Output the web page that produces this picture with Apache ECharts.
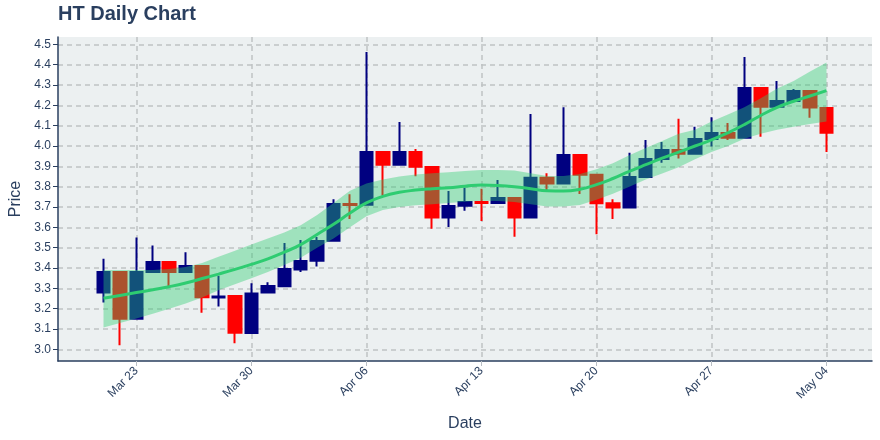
<!DOCTYPE html>
<html><head><meta charset="utf-8">
<script src="https://cdn.jsdelivr.net/npm/echarts@6/dist/echarts.min.js"></script>
<style>html,body{margin:0;padding:0;background:#fff}#c{width:880px;height:440px}</style>
</head><body><div id="c"></div>
<script>
const dates = ['2020-03-21','2020-03-22','2020-03-23','2020-03-24','2020-03-25','2020-03-26','2020-03-27','2020-03-28','2020-03-29','2020-03-30','2020-03-31',
 '2020-04-01','2020-04-02','2020-04-03','2020-04-04','2020-04-05','2020-04-06','2020-04-07','2020-04-08','2020-04-09','2020-04-10',
 '2020-04-11','2020-04-12','2020-04-13','2020-04-14','2020-04-15','2020-04-16','2020-04-17','2020-04-18','2020-04-19','2020-04-20',
 '2020-04-21','2020-04-22','2020-04-23','2020-04-24','2020-04-25','2020-04-26','2020-04-27','2020-04-28','2020-04-29','2020-04-30',
 '2020-05-01','2020-05-02','2020-05-03','2020-05-04'];
const open  = [3.28,3.38,3.15,3.38,3.43,3.38,3.41,3.255,3.262,3.08,3.279,
 3.31,3.392,3.436,3.534,3.715,3.711,3.97,3.908,3.97,3.897,
 3.648,3.706,3.725,3.72,3.744,3.648,3.844,3.815,3.956,3.859,
 3.718,3.697,3.848,3.936,3.98,3.962,4.034,4.064,4.041,4.285,
 4.193,4.221,4.27,4.187];
const close = [3.38,3.15,3.38,3.43,3.38,3.41,3.256,3.26,3.082,3.275,3.311,
 3.395,3.434,3.533,3.715,3.71,3.97,3.908,3.97,3.898,3.648,
 3.705,3.725,3.72,3.744,3.648,3.844,3.815,3.956,3.859,3.718,
 3.697,3.848,3.936,3.98,3.962,4.034,4.064,4.041,4.285,4.193,
 4.221,4.27,4.189,4.065];
const low   = [3.23,3.02,3.15,3.38,3.305,3.38,3.18,3.21,3.03,3.08,3.279,
 3.31,3.38,3.407,3.534,3.641,3.711,3.756,3.908,3.851,3.593,
 3.602,3.682,3.631,3.716,3.554,3.648,3.78,3.815,3.764,3.566,
 3.641,3.697,3.843,3.918,3.938,3.962,3.997,4.03,4.041,4.046,
 4.193,4.221,4.139,3.97];
const high  = [3.445,3.38,3.55,3.51,3.43,3.477,3.41,3.362,3.262,3.325,3.33,
 3.523,3.538,3.552,3.738,3.762,4.462,3.97,4.118,3.985,3.897,
 3.779,3.795,3.79,3.833,3.744,4.157,3.866,4.19,3.956,3.859,
 3.738,3.967,4.03,4.02,4.134,4.095,4.141,4.113,4.438,4.285,
 4.32,4.28,4.27,4.187];
const trend = [3.251,3.265,3.279,3.293,3.308,3.326,3.348,3.37,3.393,3.418,3.445,
 3.478,3.515,3.565,3.615,3.67,3.72,3.752,3.772,3.783,3.79,
 3.795,3.802,3.808,3.806,3.8,3.79,3.78,3.778,3.787,3.81,
 3.84,3.875,3.908,3.94,3.97,4.0,4.03,4.065,4.105,4.15,
 4.19,4.22,4.246,4.272];
const upper = [3.39,3.39,3.39,3.39,3.395,3.405,3.425,3.455,3.485,3.515,3.545,
 3.575,3.61,3.66,3.72,3.78,3.815,3.835,3.85,3.86,3.866,
 3.871,3.877,3.882,3.882,3.879,3.866,3.852,3.852,3.862,3.885,
 3.915,3.955,3.99,4.025,4.06,4.08,4.12,4.155,4.19,4.235,
 4.283,4.32,4.366,4.41];
const lower = [3.107,3.13,3.152,3.175,3.2,3.225,3.255,3.29,3.32,3.35,3.38,
 3.415,3.45,3.5,3.545,3.6,3.655,3.685,3.7,3.708,3.714,
 3.72,3.726,3.731,3.73,3.724,3.713,3.702,3.702,3.71,3.735,
 3.765,3.8,3.835,3.865,3.895,3.935,3.97,4.0,4.035,4.06,
 4.08,4.095,4.108,4.12];
const xTickDates  = ['2020-03-23','2020-03-30','2020-04-06','2020-04-13','2020-04-20','2020-04-27','2020-05-04'];
const xTickLabels = ['Mar 23','Mar 30','Apr 06','Apr 13','Apr 20','Apr 27','May 04'];
const yTicks = [3.0,3.1,3.2,3.3,3.4,3.5,3.6,3.7,3.8,3.9,4.0,4.1,4.2,4.3,4.4,4.5];

const ink = '#2a3f5f';
const font = 'Liberation Sans, Arial, sans-serif';
const xTickIdx = xTickDates.map(d => dates.indexOf(d));
const candles = dates.map((d, i) => [i, open[i], close[i], low[i], high[i]]);

const chart = echarts.init(document.getElementById('c'), null, {renderer: 'canvas'});
chart.setOption({
  animation: false,
  backgroundColor: '#fff',
  title: {text: 'HT Daily Chart', left: 58, top: 4, padding: 0,
    textStyle: {fontFamily: font, fontSize: 20, fontWeight: 'bold', color: ink}},
  grid: {left: 58, right: 8, top: 37, bottom: 79, show: true, backgroundColor: '#ecf0f1', borderWidth: 0,
    containLabel: false, outerBoundsMode: 'none'},
  xAxis: {
    type: 'value', min: -2.77, max: 46.77,
    name: 'Date', nameLocation: 'middle', nameGap: 55,
    nameTextStyle: {fontFamily: font, fontSize: 16, color: ink},
    axisLine: {show: true, onZero: false, lineStyle: {color: ink, width: 1.5}},
    axisTick: {show: true, length: 5, customValues: xTickIdx, lineStyle: {color: '#b8bec4'}},
    axisLabel: {customValues: xTickIdx, rotate: 45, margin: 8, fontFamily: font, fontSize: 12, color: ink,
      formatter: v => xTickLabels[xTickIdx.indexOf(Math.round(v))] || ''},
    splitLine: {show: true, lineStyle: {color: '#bec2c4', type: [5, 4], width: 1.5}}
  },
  yAxis: {
    type: 'value', min: 2.9425, max: 4.536,
    name: 'Price', nameLocation: 'middle', nameGap: 34, nameRotate: 90,
    nameTextStyle: {fontFamily: font, fontSize: 16, color: ink},
    axisLine: {show: true, onZero: false, lineStyle: {color: ink, width: 1.5}},
    axisTick: {show: true, length: 5, customValues: yTicks, lineStyle: {color: ink}},
    axisLabel: {customValues: yTicks, margin: 7, fontFamily: font, fontSize: 12, color: ink,
      formatter: v => v.toFixed(1)},
    splitLine: {show: true, lineStyle: {color: '#bec2c4', type: [5, 4], width: 1.5}}
  },
  series: [
    {type: 'candlestick', data: candles, encode: {x: 0, y: [1, 2, 3, 4]}, barWidth: 13, z: 2,
      itemStyle: {color: '#000080', color0: '#ff0000', borderColor: '#000080', borderColor0: '#ff0000', borderWidth: 2}},
    {type: 'custom', z: 3, data: [[0, trend[0]]], encode: {x: 0, y: 1}, silent: true,
      renderItem: (params, api) => {
        const top = upper.map((u, i) => api.coord([i, u]));
        const bot = lower.map((l, i) => api.coord([i, l])).reverse();
        return {type: 'polygon', shape: {points: top.concat(bot)}, style: {fill: 'rgba(46,204,113,0.4)'}};
      }},
    {type: 'line', data: trend.map((v, i) => [i, v]), symbol: 'none', smooth: true, z: 4,
      lineStyle: {color: '#2ecc71', width: 3}}
  ]
});
</script></body></html>
